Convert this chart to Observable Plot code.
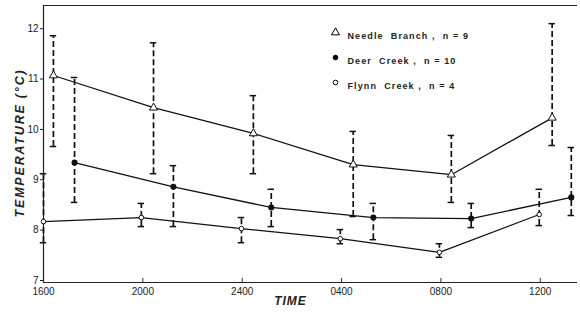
<!DOCTYPE html>
<html><head><meta charset="utf-8">
<script src="https://cdn.jsdelivr.net/npm/d3@7"></script>
<script src="https://cdn.jsdelivr.net/npm/@observablehq/plot@0.6"></script>
<style>body{margin:0;background:#fff}</style>
</head><body><div id="chart"></div>
<script>
// tick labels (hours after 1600)
const timeTicks = [0, 4, 8, 12, 16, 20];
const timeLabels = ["1600", "2000", "2400", "0400", "0800", "1200"];
const tempTicks = [7, 8, 9, 10, 11, 12];

const seriesNames = ["Needle Branch", "Deer Creek", "Flynn Creek"];
const seriesN = [9, 10, 4];

// Needle Branch
const needleTime = [0.4, 4.43, 8.45, 12.47, 16.42, 20.48];
const needleMean = [11.11, 10.47, 9.96, 9.34, 9.14, 10.27];
const needleHi   = [11.9, 11.76, 10.71, 10.0, 9.92, 12.14];
const needleLo   = [9.7, 9.16, 9.16, 8.31, 8.59, 9.72];

// Deer Creek
const deerTime = [1.25, 5.23, 9.17, 13.28, 17.22, 21.25];
const deerMean = [9.38, 8.9, 8.49, 8.29, 8.27, 8.69];
const deerHi   = [11.07, 9.32, 8.85, 8.57, 8.57, 9.68];
const deerLo   = [8.59, 8.11, 8.11, 7.85, 8.09, 8.33];

// Flynn Creek
const flynnTime = [0, 3.94, 7.97, 11.95, 15.94, 19.96];
const flynnMean = [8.21, 8.29, 8.07, 7.87, 7.6, 8.35];
const flynnHi   = [9.16, 8.57, 8.29, 8.05, 7.77, 8.85];
const flynnLo   = [7.79, 8.11, 7.79, 7.77, 7.5, 8.13];

function rows(name, t, m, hi, lo) {
  return t.map((d, i) => ({series: name, t: d, mean: m[i], hi: hi[i], lo: lo[i]}));
}
const needle = rows(seriesNames[0], needleTime, needleMean, needleHi, needleLo);
const deer = rows(seriesNames[1], deerTime, deerMean, deerHi, deerLo);
const flynn = rows(seriesNames[2], flynnTime, flynnMean, flynnHi, flynnLo);
const all = [...needle, ...deer, ...flynn];

const capHalf = 0.13;
const font = "'Liberation Sans', Arial, sans-serif";

const legendMarks = [];
const legendSymbols = [
  {symbol: "triangle", fill: "white", r: 3},
  {symbol: "circle", fill: "black", r: 2.3},
  {symbol: "circle", fill: "white", r: 2.3}
];
seriesNames.forEach((name, i) => {
  const s = legendSymbols[i];
  legendMarks.push(Plot.dot([name], {frameAnchor: "top-left", dx: 292, dy: 27 + 25 * i,
    symbol: s.symbol, r: s.r, fill: s.fill, stroke: "black", strokeWidth: 1}));
  legendMarks.push(Plot.text([name], {frameAnchor: "top-left", dx: 304, dy: 27 + 25 * i,
    text: d => d.replace(" ", "  ") + " ,  n = " + seriesN[i], textAnchor: "start",
    fontSize: 9, fontWeight: "bold", fill: "#222", fontFamily: font}));
});

const chart = Plot.plot({
  width: 580, height: 315,
  marginLeft: 43, marginRight: 3, marginTop: 5, marginBottom: 33,
  style: {fontFamily: font, fontSize: "10px", color: "#222", background: "white"},
  x: {domain: [0, 21.5]},
  y: {domain: [7, 12.5]},
  marks: [
    Plot.axisX({ticks: timeTicks, tickFormat: (d) => timeLabels[timeTicks.indexOf(d)],
      tickSize: 0, tickPadding: 5, label: null, fontSize: 10}),
    Plot.axisY({ticks: tempTicks, tickFormat: d => String(d), tickSize: 3, tickPadding: 2, dy: -2, label: null, fontSize: 10}),
    Plot.ruleX(timeTicks, {x: d => d, y1: 7, y2: 7.08, stroke: "#333"}),
    Plot.ruleY([7], {stroke: "#222", strokeWidth: 1.2}),
    Plot.ruleY([12.5], {stroke: "#222", strokeWidth: 1}),
    Plot.ruleX([0], {stroke: "#222", strokeWidth: 1.2}),
    // error bars
    Plot.ruleX(all, {x: "t", y1: "lo", y2: "hi", stroke: "#111", strokeWidth: 1.7, strokeDasharray: "6,3"}),
    Plot.ruleY(all, {y: "hi", x1: d => d.t - capHalf, x2: d => d.t + capHalf, stroke: "#111", strokeWidth: 1.5}),
    Plot.ruleY(all, {y: "lo", x1: d => d.t - capHalf, x2: d => d.t + capHalf, stroke: "#111", strokeWidth: 1.5}),
    // lines
    Plot.line(needle, {x: "t", y: "mean", stroke: "#111", strokeWidth: 1.3}),
    Plot.line(deer, {x: "t", y: "mean", stroke: "#111", strokeWidth: 1.3}),
    Plot.line(flynn, {x: "t", y: "mean", stroke: "#111", strokeWidth: 1.3}),
    // markers
    Plot.dot(needle, {x: "t", y: "mean", symbol: "triangle", r: 3, fill: "white", stroke: "#111", strokeWidth: 1}),
    Plot.dot(deer, {x: "t", y: "mean", r: 2.3, fill: "#111", stroke: "#111"}),
    Plot.dot(flynn, {x: "t", y: "mean", r: 2.3, fill: "white", stroke: "#111", strokeWidth: 1}),
    ...legendMarks,
    Plot.text(["TIME"], {frameAnchor: "bottom", dx: -20, dy: 22, text: d => d, fontSize: 12,
      fontWeight: "bold", fontStyle: "italic", fill: "#222"}),
    Plot.text(["TEMPERATURE (°C)"], {frameAnchor: "left", textAnchor: "middle", dx: -24, dy: -1, rotate: -90, text: d => d,
      fontSize: 12.5, fontWeight: "bold", fontStyle: "italic", fill: "#222"})
  ]
});
// letter spacing for lettering-style labels
d3.select(chart).selectAll("text").each(function() {
  const t = this.textContent;
  if (t.includes("n =")) this.setAttribute("letter-spacing", "1.1");
  else if (t === "TIME") this.setAttribute("letter-spacing", "1");
  else if (t.startsWith("TEMPERATURE")) this.setAttribute("letter-spacing", "1.8");
});
document.getElementById("chart").append(chart);
</script>
</body></html>
